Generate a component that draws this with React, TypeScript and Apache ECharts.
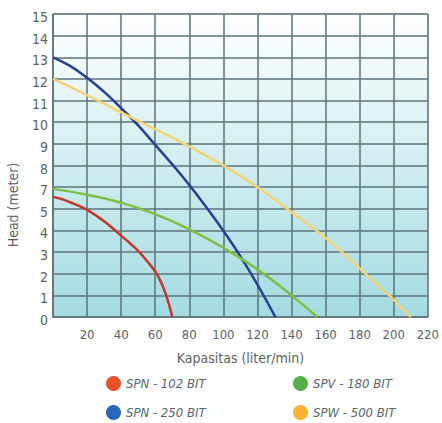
import React, { useEffect, useRef } from "react";
import * as echarts from "echarts";

// x values: liter/min ; y values: position along the head axis (grid row index, labels below)
const xTicks = [0, 20, 40, 60, 80, 100, 120, 140, 160, 180, 200, 220];
const yTickLabels = ["0", "1", "2", "3", "4", "5", "7", "8", "9", "10", "11", "12", "13", "14", "15"];

const spn102: [number, number][] = [
  [0, 5.55], [5, 5.45], [10, 5.3], [15, 5.15], [20, 4.95], [25, 4.7], [30, 4.42], [35, 4.1], [40, 3.76],
  [45, 3.42], [50, 3.05], [55, 2.6], [60, 2.1], [63, 1.68], [66, 1.1], [68, 0.6], [69.3, 0.22], [70, 0],
];
const spn250: [number, number][] = [
  [0, 12], [10, 11.6], [20, 11.05], [30, 10.4], [40, 9.65], [50, 8.85], [60, 7.95], [70, 7.05], [80, 6.1],
  [90, 5.07], [100, 3.98], [110, 2.8], [120, 1.5], [130.5, 0],
];
const spv180: [number, number][] = [
  [0, 5.92], [20, 5.65], [40, 5.28], [60, 4.75], [80, 4.05], [100, 3.2], [120, 2.2], [140, 1.0], [155, 0],
];
const spw500: [number, number][] = [
  [0, 11], [20, 10.25], [40, 9.45], [60, 8.68], [80, 7.88], [100, 7.0], [120, 6.0], [140, 4.85],
  [160, 3.65], [180, 2.25], [200, 0.8], [210, 0],
];

const seriesNames = ["SPN - 102 BIT", "SPN - 250 BIT", "SPV - 180 BIT", "SPW - 500 BIT"];
const lineColors = ["#c4372e", "#27408f", "#7cc046", "#f2d477"];
const legendColors = ["#e8502a", "#2a68b8", "#55b04a", "#f8b233"];

const FONT = "'Liberation Sans Narrow', 'DejaVu Sans Condensed', 'Liberation Sans', sans-serif";

export default function App() {
  const ref = useRef<HTMLDivElement>(null);
  useEffect(() => {
    if (!ref.current) return;
    const chart = echarts.init(ref.current, undefined, { renderer: "svg" });
    const datasets = [spn102, spn250, spv180, spw500];
    const gridColor = "#5b757b";
    const legendBase = {
      orient: "vertical",
      top: 376,
      padding: 0,
      itemGap: 14,
      itemWidth: 15,
      itemHeight: 15,
      icon: "circle",
      textStyle: { fontFamily: FONT, fontSize: 13, fontStyle: "italic", color: "#5a6670" },
    };
    chart.setOption({
      animation: false,
      grid: {
        left: 53,
        right: 9,
        top: 14,
        bottom: 106,
        show: true,
        borderColor: "#b9c6ca",
        borderWidth: 1,
        backgroundColor: new echarts.graphic.LinearGradient(0, 0, 0, 1, [
          { offset: 0, color: "#ffffff" },
          { offset: 1, color: "#a3dbe1" },
        ]),
      },
      xAxis: {
        type: "value",
        min: 0,
        max: 220,
        interval: 20,
        name: "Kapasitas (liter/min)",
        nameLocation: "middle",
        nameGap: 34,
        nameTextStyle: { fontFamily: FONT, fontSize: 14, color: "#5a6368" },
        axisLine: { show: true, lineStyle: { color: gridColor, width: 1.5 } },
        axisTick: { show: false },
        axisLabel: {
          fontFamily: FONT,
          fontSize: 13,
          color: "#5a6368",
          margin: 11,
          formatter: (v: number) => (v === 0 ? "" : String(v)),
        },
        splitLine: { show: true, lineStyle: { color: gridColor, width: 1.5 } },
      },
      yAxis: {
        type: "value",
        min: 0,
        max: 14,
        interval: 1,
        axisLine: { show: true, lineStyle: { color: gridColor, width: 1.5 } },
        axisTick: { show: false },
        axisLabel: {
          fontFamily: FONT,
          fontSize: 14,
          color: "#5a6368",
          margin: 5,
          verticalAlign: "top",
          lineHeight: 6,
          formatter: (v: number) => yTickLabels[v] ?? "",
        },
        splitLine: { show: true, lineStyle: { color: gridColor, width: 1.5 } },
      },
      graphic: [
        {
          type: "text",
          x: 13,
          y: 205,
          rotation: Math.PI / 2,
          style: {
            text: "Head (meter)",
            fontFamily: FONT,
            fontSize: 14,
            fill: "#5a6368",
            align: "center",
            verticalAlign: "middle",
          },
        },
      ],
      legend: [
        {
          ...legendBase,
          left: 106,
          data: [
            { name: seriesNames[0], itemStyle: { color: legendColors[0] } },
            { name: seriesNames[1], itemStyle: { color: legendColors[1] } },
          ],
        },
        {
          ...legendBase,
          left: 293,
          data: [
            { name: seriesNames[2], itemStyle: { color: legendColors[2] } },
            { name: seriesNames[3], itemStyle: { color: legendColors[3] } },
          ],
        },
      ],
      series: datasets.map((d, i) => ({
        name: seriesNames[i],
        type: "line",
        data: d,
        smooth: 0.5,
        showSymbol: false,
        symbol: "none",
        color: lineColors[i],
        lineStyle: { color: lineColors[i], width: 2.5 },
        z: 3,
      })),
    });
    return () => chart.dispose();
  }, []);
  return <div ref={ref} style={{ width: 442, height: 423, position: "absolute", left: 0, top: 0 }} />;
}

void xTicks;
